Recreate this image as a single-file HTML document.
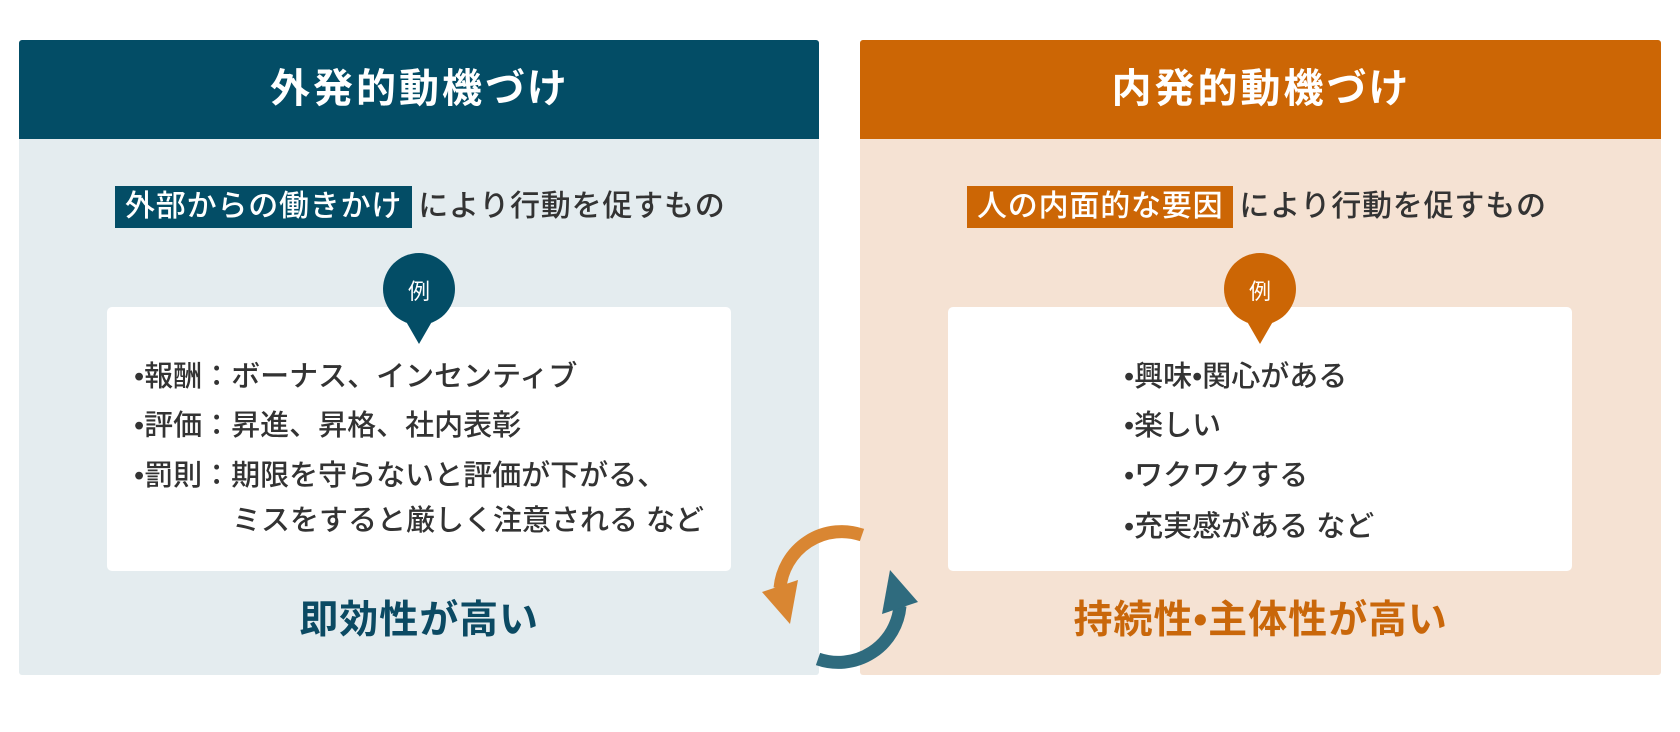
<!DOCTYPE html>
<html><head><meta charset="utf-8"><style>
*{margin:0;padding:0;box-sizing:border-box}
body{width:1680px;height:732px;background:#fff;position:relative;overflow:hidden;font-family:"Liberation Sans","Noto Sans CJK JP",sans-serif;color:#333}
.a{position:absolute}
.panel{position:absolute;top:40px;height:635px;border-radius:3px;overflow:hidden}
.hd{height:99px;color:#fff;font-weight:bold;font-size:40px;text-align:center;line-height:99px;letter-spacing:3px;font-feature-settings:"palt"}
.sub{position:absolute;top:186px;font-size:30px;font-weight:500;white-space:nowrap;line-height:42px;letter-spacing:0.8px}
.hl{display:inline-block;color:#fff;padding:0 10px;margin-right:6px}
.box{position:absolute;top:307px;height:264px;background:#fff;border-radius:5px}
.li{position:absolute;font-size:29px;font-weight:500;white-space:nowrap;line-height:36px}
.btm{position:absolute;top:558px;width:100%;text-align:center;font-size:39px;font-weight:bold;line-height:46px;letter-spacing:1px;font-feature-settings:"palt"}
</style></head><body>
<div class="panel" style="left:19px;width:800px;background:#e4ecef">
 <div class="hd" style="background:#034d66">外発的動機づけ</div>
 <div class="btm" style="color:#0b4a63;left:0">即効性が高い</div>
</div>
<div class="panel" style="left:860px;width:801px;background:#f5e2d3">
 <div class="hd" style="background:#cc6605">内発的動機づけ</div>
 <div class="btm" style="color:#c9670a;left:0">持続性•主体性が高い</div>
</div>
<div class="sub" style="left:115px"><span class="hl" style="background:#034d66">外部からの働きかけ</span>により行動を促すもの</div>
<div class="sub" style="left:967px"><span class="hl" style="background:#cc6605">人の内面的な要因</span>により行動を促すもの</div>
<div class="box" style="left:107px;width:624px"></div>
<div class="box" style="left:948px;width:624px"></div>
<svg class="a" style="left:0;top:0" width="1680" height="732">
 <circle cx="419" cy="289" r="36" fill="#034d66"/>
 <polygon points="404,318 434,318 419,344" fill="#034d66"/>
 <text x="419" y="299" font-size="22" fill="#fff" text-anchor="middle" font-family="Liberation Sans,Noto Sans CJK JP,sans-serif">例</text>
 <circle cx="1260" cy="289" r="36" fill="#cc6605"/>
 <polygon points="1245,318 1275,318 1260,344" fill="#cc6605"/>
 <text x="1260" y="299" font-size="22" fill="#fff" text-anchor="middle" font-family="Liberation Sans,Noto Sans CJK JP,sans-serif">例</text>
 <path d="M862,535 A62,62 0 0 0 780,588" fill="none" stroke="#d98632" stroke-width="13"/>
 <polygon points="762,592 798,580 790,624" fill="#d98632"/>
 <path d="M818,659 A62,62 0 0 0 900,606" fill="none" stroke="#2f6b7e" stroke-width="13"/>
 <polygon points="918,602 882,614 890,570" fill="#2f6b7e"/>
</svg>
<div class="li" style="left:134px;top:359px">•報酬：ボーナス、インセンティブ</div>
<div class="li" style="left:134px;top:408px">•評価：昇進、昇格、社内表彰</div>
<div class="li" style="left:134px;top:458px">•罰則：期限を守らないと評価が下がる、</div>
<div class="li" style="left:232px;top:503px">ミスをすると厳しく注意される など</div>
<div class="li" style="left:1124px;top:359px">•興味•関心がある</div>
<div class="li" style="left:1124px;top:408px">•楽しい</div>
<div class="li" style="left:1124px;top:458px">•ワクワクする</div>
<div class="li" style="left:1124px;top:509px">•充実感がある など</div>
</body></html>
